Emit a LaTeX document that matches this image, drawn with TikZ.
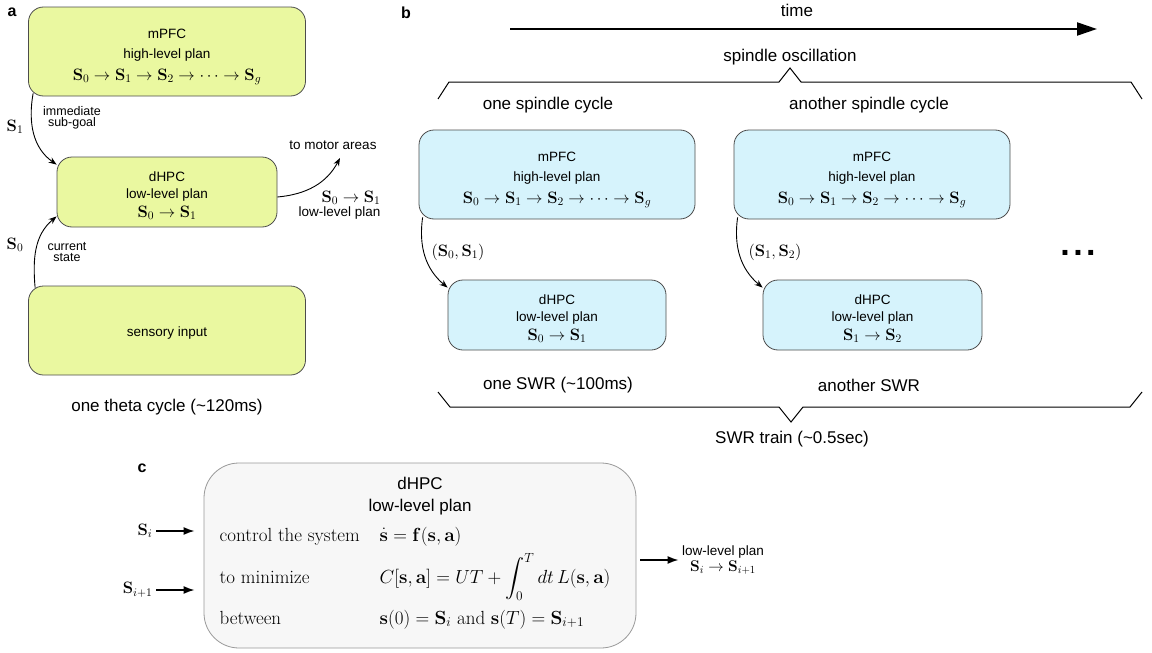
\RequirePackage{fix-cm}
\documentclass[tikz,border=0pt]{standalone}
\usepackage{amsmath,amssymb}
\usepackage[no-math]{fontspec}
\newfontfamily\hv{Liberation Sans}
\usetikzlibrary{arrows.meta}
\usepackage{xcolor}
\definecolor{limefill}{RGB}{234,248,160}
\definecolor{cyanfill}{RGB}{214,243,252}
\definecolor{greyfill}{RGB}{247,247,247}
\newcommand\vS{\mathbf{S}}
\newcommand\mth[1]{{\fontsize{16.5}{20}\selectfont$#1$}}
\newcommand\padtop[1]{\rule{0pt}{#1}}

\begin{document}
\begin{tikzpicture}[x=1pt, y=1pt,
    font=\hv\fontsize{13.5}{17}\selectfont,
    plan/.style={rectangle, rounded corners=15pt, draw=black!70, line width=0.8pt, align=center},
    high/.style={plan, minimum width=277pt, minimum height=89pt, font=\hv\fontsize{13.5}{20}\selectfont},
    low/.style={plan, minimum width=219pt, minimum height=70pt},
    captxt/.style={font=\hv\fontsize{17}{20}\selectfont},
    lbl/.style={font=\hv\fontsize{12.5}{11.5}\selectfont, align=center},
    panel/.style={font=\hv\bfseries\fontsize{16}{18}\selectfont},
    link/.style={-{Stealth[length=8pt,width=6pt]}, line width=0.9pt},
    feed/.style={-{Latex[length=11pt,width=8pt]}, line width=1.6pt},
    brace/.style={line width=1pt},
    serif/.style={font=\fontsize{19}{24}\selectfont, anchor=base west, inner sep=0.5pt}
]
    \useasboundingbox (0,0) rectangle (1152,-653);

    % Panel a: one theta cycle
    \node [panel] (labA) at (12,-12) {a};
    \node [high, fill=limefill] (mpfcA) at (167,-51.5) {\padtop{20pt}mPFC\\ high-level plan\\[2pt] \mth{\vS_0\to\vS_1\to\vS_2\to\cdots\to\vS_g}};
    \node [low, fill=limefill, minimum width=220pt] (dhpcA) at (167,-192) {\padtop{16.7pt}dHPC\\ low-level plan\\[2pt] \mth{\vS_0\to\vS_1}};
    \node [high, fill=limefill] (sensA) at (167,-330.5) {\padtop{15.7pt}sensory input};
    \node [captxt] (thetaA) at (167,-407) {one theta cycle (\textasciitilde120ms)};

    \node (s1A) at (15,-127) {\mth{\vS_1}};
    \node [lbl] (goalA) at (72,-118) {immediate\\sub-goal};
    \node (s0A) at (15,-245) {\mth{\vS_0}};
    \node [lbl] (stateA) at (67,-252) {current\\state};
    \node (motorTxt) at (333,-145) {to motor areas};
    \node [align=right, anchor=east, font=\hv\fontsize{13.5}{14.5}\selectfont] (outA) at (384,-205) {\mth{\vS_0\to\vS_1}\\ low-level plan};
    \coordinate (motorA) at (340,-158);

    \draw [link] ([xshift=5pt,yshift=3pt]mpfcA.south west) to[out=-100,in=145] ([yshift=-8pt]dhpcA.north west);
    \draw [link] ([xshift=7pt,yshift=-2pt]sensA.north west) to[out=95,in=-140] ([yshift=11pt]dhpcA.south west);
    \draw [link] ([yshift=-5pt]dhpcA.east) to[out=5,in=-118] (motorA);

    % Panel b: spindle cycles and SWRs
    \node [panel] (labB) at (406,-13) {b};
    \node [captxt] (timeB) at (797,-10) {time};
    \coordinate (t0) at (510,-29);
    \coordinate (t1) at (1097,-29);
    \draw [-{Triangle[length=20pt,width=13pt]}, line width=2.2pt] (t0) -- (t1);

    \node [captxt] (spinB) at (790,-57) {spindle oscillation};
    \draw [brace] (438,-99) -- (449,-82) -- (779,-82) -- (790,-68) -- (801,-82) -- (1131,-82) -- (1142,-99);
    \node [captxt] (cycB1) at (548,-105) {one spindle cycle};
    \node [captxt] (cycB2) at (869,-105) {another spindle cycle};

    \node [high, fill=cyanfill, minimum width=276pt] (mpfcB1) at (557,-174.5) {\padtop{20pt}mPFC\\ high-level plan\\[2pt] \mth{\vS_0\to\vS_1\to\vS_2\to\cdots\to\vS_g}};
    \node [high, fill=cyanfill, minimum width=276pt] (mpfcB2) at (872,-174.5) {\padtop{20pt}mPFC\\ high-level plan\\[2pt] \mth{\vS_0\to\vS_1\to\vS_2\to\cdots\to\vS_g}};
    \node [low, fill=cyanfill, minimum width=218pt] (dhpcB1) at (557,-315) {\padtop{16.7pt}dHPC\\ low-level plan\\[2pt] \mth{\vS_0\to\vS_1}};
    \node [low, fill=cyanfill, minimum width=219pt] (dhpcB2) at (872.5,-315) {\padtop{16.7pt}dHPC\\ low-level plan\\[2pt] \mth{\vS_1\to\vS_2}};

    \node (pairB1) at (458,-252) {\mth{(\vS_0,\vS_1)}};
    \node (pairB2) at (775,-252) {\mth{(\vS_1,\vS_2)}};
    \node [anchor=base, font=\hv\bfseries\fontsize{34}{34}\selectfont] (moreB) at (1078,-255.5) {.\hspace{3.5pt}.\hspace{3.5pt}.};

    \draw [link] ([xshift=4pt,yshift=2pt]mpfcB1.south west) to[out=-98,in=140] ([yshift=-8pt]dhpcB1.north west);
    \draw [link] ([xshift=4pt,yshift=2pt]mpfcB2.south west) to[out=-98,in=140] ([yshift=-8pt]dhpcB2.north west);

    \node [captxt] (swrB1) at (558,-385) {one SWR (\textasciitilde100ms)};
    \node [captxt] (swrB2) at (869,-385) {another SWR};
    \draw [brace] (438,-392) -- (450,-407) -- (779,-407) -- (791,-422) -- (803,-407) -- (1130,-407) -- (1142,-392);
    \node [captxt] (trainB) at (792,-439) {SWR train (\textasciitilde0.5sec)};

    % Panel c: the low-level controller
    \node [panel] (labC) at (142,-468) {c};
    \node [plan, rounded corners=35pt, draw=black!40, fill=greyfill, minimum width=432pt, minimum height=185pt] (dhpcC) at (420,-555.5) {};
    \node [font=\hv\fontsize{17}{22}\selectfont, align=center] (titleC) at (420,-496) {dHPC\\ low-level plan};

    \node [serif] (ctrlC) at (219,-541) {control the system};
    \node [serif] (minC) at (219,-583) {to minimize};
    \node [serif] (betwC) at (219,-624) {between};
    \node [serif] (dynC) at (379,-541) {$\dot{\mathbf{s}} = \mathbf{f}(\mathbf{s},\mathbf{a})$};
    \node [serif] (costC) at (379,-583) {$\displaystyle C[\mathbf{s},\mathbf{a}] = UT + \int_0^T dt\, L(\mathbf{s},\mathbf{a})$};
    \node [serif] (bndC) at (379,-624) {$\mathbf{s}(0) = \vS_i$ and $\mathbf{s}(T) = \vS_{i+1}$};

    \node [anchor=east] (siC) at (156,-531) {\mth{\vS_i}};
    \node [anchor=east] (si1C) at (156,-590) {\mth{\vS_{i+1}}};
    \node [align=center, font=\hv\fontsize{13.5}{16.5}\selectfont] (outC) at (723,-560) {low-level plan\\ {\fontsize{15.5}{16.5}\selectfont$\vS_i\to\vS_{i+1}$}};

    \draw [feed, shorten >=9pt] (siC.east) -- (siC.east -| dhpcC.west);
    \draw [feed, shorten >=9pt] (si1C.east) -- (si1C.east -| dhpcC.west);
    \draw [feed, shorten <=4pt] (dhpcC.east |- outC.west) -- (outC.west);
\end{tikzpicture}
\end{document}
